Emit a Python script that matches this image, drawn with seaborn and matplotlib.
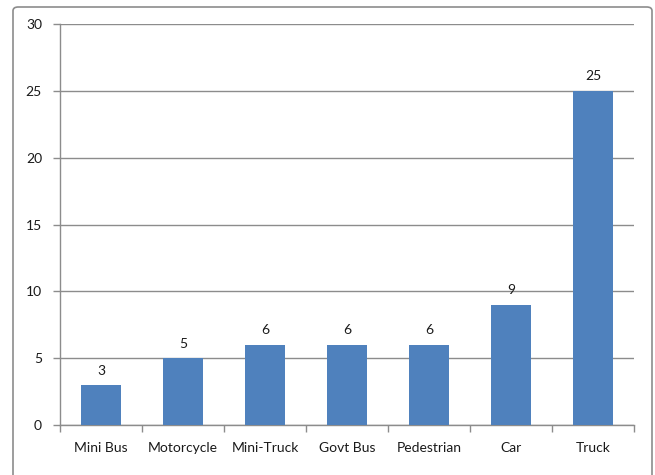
import matplotlib
matplotlib.use("Agg")
import matplotlib.pyplot as plt
import seaborn as sns
import pandas as pd
import numpy as np
from matplotlib.patches import FancyBboxPatch
from matplotlib.ticker import FixedLocator

categories = ["Mini Bus", "Motorcycle", "Mini-Truck", "Govt Bus", "Pedestrian", "Car", "Truck"]
values = [3, 5, 6, 6, 6, 9, 25]
yticks = [0, 5, 10, 15, 20, 25, 30]

sns.set_theme(style="white")
plt.rcParams['font.family'] = ['Lato', 'DejaVu Sans']

df = pd.DataFrame({"cat": categories, "val": values})

fig = plt.figure(figsize=(6.55, 4.75), dpi=100)
ax = fig.add_axes([60/655, 1 - 425/475, (634-60)/655, (425-24)/475])

# outer border
border = FancyBboxPatch((13/655, -0.02), (652-13)/655, (475-7)/475 + 0.02,
                        boxstyle="round,pad=0,rounding_size=0.008",
                        transform=fig.transFigure, fill=False,
                        edgecolor="#8c8c8c", linewidth=1.2, zorder=0)
fig.patches.append(border)

sns.barplot(data=df, x="cat", y="val", order=categories, color="#4F81BD",
            saturation=1, width=0.49, ax=ax, zorder=3,
            edgecolor="none", linewidth=0)

ax.set_ylim(0, 30)
ax.set_xlim(-0.5, len(categories) - 0.5)
ax.set_yticks(yticks)
ax.yaxis.grid(True, color="#8c8c8c", linewidth=1.0)
ax.set_axisbelow(True)
ax.set_xlabel("")
ax.set_ylabel("")

for s in ["top", "right"]:
    ax.spines[s].set_visible(False)
for s in ["left", "bottom"]:
    ax.spines[s].set_color("#8c8c8c")
    ax.spines[s].set_linewidth(1.0)

ax.tick_params(axis="y", which="major", length=5, width=1, color="#8c8c8c",
               labelsize=10, labelcolor="#1a1a1a", pad=8, left=True)
ax.tick_params(axis="x", which="major", length=0, labelsize=10,
               labelcolor="#1a1a1a", pad=12)
ax.xaxis.set_minor_locator(FixedLocator(np.arange(-0.5, len(categories), 1.0)))
ax.tick_params(axis="x", which="minor", length=5, width=1, color="#8c8c8c",
               bottom=True)

for c in ax.containers:
    ax.bar_label(c, labels=[str(v) for v in values], padding=6,
                 fontsize=10, color="#1a1a1a")

fig.savefig("out.png", dpi=100)
